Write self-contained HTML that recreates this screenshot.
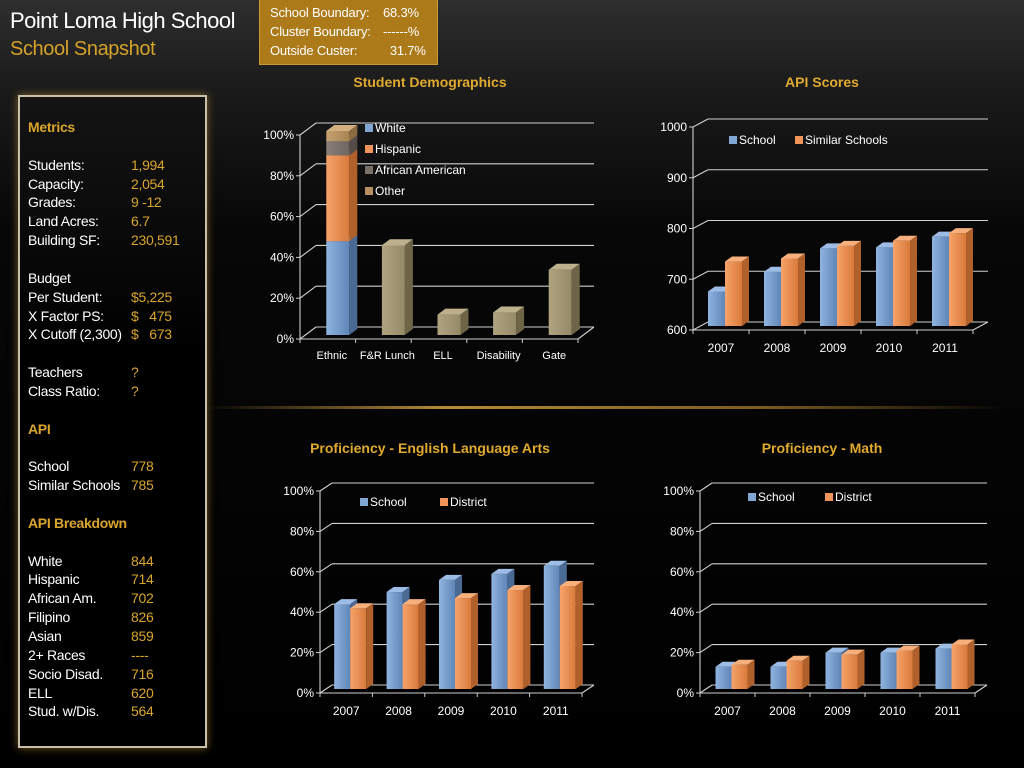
<!DOCTYPE html>
<html><head><meta charset="utf-8">
<style>
html,body{margin:0;padding:0;}
body{width:1024px;height:768px;overflow:hidden;position:relative;font-family:"Liberation Sans",sans-serif;
background:linear-gradient(180deg,#2e2e2e 0%,#1a1a1a 12%,#070707 30%,#000 100%);}
.abs{position:absolute;white-space:nowrap;}
#title{left:10px;top:8px;font-size:22px;color:#fff;letter-spacing:-0.5px;}
#sub{left:10px;top:38px;font-size:20px;color:#d4a22a;letter-spacing:-0.4px;}
#hbox{left:259px;top:-1px;width:179px;height:66px;background:#ad7a1a;border:1px solid #c99a3a;box-sizing:border-box;color:#fff;font-size:13px;letter-spacing:-0.2px;}
#hbox div{position:absolute;white-space:nowrap;}
#panel{left:18px;top:95px;width:189px;height:653px;box-sizing:border-box;border:2px solid #c8c0a8;box-shadow:0 0 8px rgba(200,150,60,0.6);background:linear-gradient(180deg,#141414,#000 40%);}
.lbl{position:absolute;left:28px;font-size:14px;color:#fff;letter-spacing:-0.3px;white-space:nowrap;}
.val{position:absolute;left:131px;font-size:14px;color:#d9a52c;letter-spacing:-0.3px;white-space:nowrap;}
.hd{position:absolute;left:28px;font-size:14px;color:#d9a52c;font-weight:bold;letter-spacing:-0.3px;}
.ct{position:absolute;font-size:14px;font-weight:bold;color:#e0a930;transform:translateX(-50%);white-space:nowrap;}
#glow{left:205px;top:406px;width:800px;height:3px;background:linear-gradient(90deg,rgba(0,0,0,0),#b58a3a 30%,#7a5a20 70%,rgba(0,0,0,0));}
svg{position:absolute;left:0;top:0;}
</style></head>
<body>
<div class="abs" id="title">Point Loma High School</div>
<div class="abs" id="sub">School Snapshot</div>
<div class="abs" id="hbox">
 <div style="left:10px;top:5px">School Boundary:</div><div style="left:123px;top:5px">68.3%</div>
 <div style="left:10px;top:24px">Cluster Boundary:</div><div style="left:123px;top:24px">------%</div>
 <div style="left:10px;top:43px">Outside Custer:</div><div style="left:123px;top:43px">&nbsp;&nbsp;31.7%</div>
</div>
<div class="abs" id="glow"></div>
<div class="abs" id="panel"></div>
<div id="metrics"></div>

<div class="ct" style="left:430px;top:74px">Student Demographics</div>
<div class="ct" style="left:822px;top:74px">API Scores</div>
<div class="ct" style="left:430px;top:440px">Proficiency - English Language Arts</div>
<div class="ct" style="left:822px;top:440px">Proficiency - Math</div>

<svg id="chart" width="1024" height="768"></svg>

<script>
// ---- Data ----
const demoCats = ["Ethnic","F&R Lunch","ELL","Disability","Gate"];
const demoWhite = [46];
const demoHispanic = [42];
const demoAfrican = [7];
const demoOther = [5];
const demoSingle = [null,44,10,11,32];
const demoTicks = ["0%","20%","40%","60%","80%","100%"];

const years = ["2007","2008","2009","2010","2011"];
const apiSchool = [668,707,753,755,776];
const apiSimilar = [727,733,758,768,783];
const apiTicks = ["600","700","800","900","1000"];

const elaSchool = [42,48,54,57,61];
const elaDistrict = [40,42,45,49,51];
const mathSchool = [11,11,18,18,20];
const mathDistrict = [12,14,17,19,22];
const pctTicks = ["0%","20%","40%","60%","80%","100%"];

const metricRows = [
 ["h","Metrics",""],["",""],["l","Students:","1,994"],["l","Capacity:","2,054"],["l","Grades:","9 -12"],["l","Land Acres:","6.7"],["l","Building SF:","230,591"],["",""],
 ["l","Budget",""],["l","Per Student:","$5,225"],["l","X Factor PS:","$   475"],["l","X Cutoff (2,300)","$   673"],["",""],
 ["l","Teachers","?"],["l","Class Ratio:","?"],["",""],["h","API",""],["",""],["l","School","778"],["l","Similar Schools","785"],["",""],
 ["h","API Breakdown",""],["",""],["l","White","844"],["l","Hispanic","714"],["l","African Am.","702"],["l","Filipino","826"],["l","Asian","859"],
 ["l","2+ Races","----"],["l","Socio Disad.","716"],["l","ELL","620"],["l","Stud. w/Dis.","564"]
];

const mdiv = document.getElementById('metrics');
metricRows.forEach((r,i)=>{
  if(!r[0]) return;
  const y = 119 + i*18.85;
  const a = document.createElement('div');
  a.className = r[0]==='h' ? 'hd' : 'lbl';
  a.style.top = y+'px';
  a.textContent = r[1];
  
  
  mdiv.appendChild(a);
  if(r[2]){
    const v = document.createElement('div');
    v.className='val'; v.style.top=y+'px';
    v.style.whiteSpace='pre';
    v.textContent=r[2];
    
    
    mdiv.appendChild(v);
  }
});

const svg = document.getElementById('chart');
const NS = "http://www.w3.org/2000/svg";
function mk(tag, attrs, parent){
  const e = document.createElementNS(NS, tag);
  for(const k in attrs) e.setAttribute(k, attrs[k]);
  (parent||svg).appendChild(e);
  return e;
}
const defs = mk('defs',{});
function grad(id,c1,c2){
  const g = mk('linearGradient',{id:id,x1:0,y1:0,x2:1,y2:0},defs);
  mk('stop',{offset:'0',  'stop-color':c1},g);
  mk('stop',{offset:'1','stop-color':c2},g);
}
grad('gBlue','#8fb4e0','#5f86b8');
grad('gOrange','#f7a36a','#d87a3c');
grad('gTan','#b0a380','#958a68');
grad('gGray','#8a7f78','#6e6560');
grad('gOther','#c7a170','#a88454');
const colors = {
  blue:{f:'url(#gBlue)',t:'#9dbde6',s:'#4a6a94'},
  orange:{f:'url(#gOrange)',t:'#f7b07c',s:'#b0602a'},
  tan:{f:'url(#gTan)',t:'#bdb08c',s:'#6e6548'},
  gray:{f:'url(#gGray)',t:'#9a908a',s:'#544c48'},
  other:{f:'url(#gOther)',t:'#d4b080',s:'#8a6a40'}
};

function frame(c){
  const n = c.ticks.length;
  for(let i=0;i<n;i++){
    const y = c.yBot + (c.yTop-c.yBot)*i/(n-1);
    const g = mk('line',{x1:c.x0+c.dx,y1:y+c.dy,x2:c.x1+c.dx,y2:y+c.dy,stroke:'#cfcfcf','stroke-width':1.1});
    
    
    mk('line',{x1:c.x0,y1:y,x2:c.x0+c.dx,y2:y+c.dy,stroke:'#cfcfcf','stroke-width':1.1});
    mk('line',{x1:c.x0-4,y1:y,x2:c.x0,y2:y,stroke:'#cfcfcf','stroke-width':1});
    const t = mk('text',{x:c.x0-6,y:y+4,'text-anchor':'end',fill:'#fff','font-size':12,'font-family':'Liberation Sans, sans-serif'});
    t.textContent = c.ticks[i];
    
    
  }
  mk('line',{x1:c.x0,y1:c.yBot,x2:c.x0,y2:c.yTop,stroke:'#cfcfcf','stroke-width':1.1});
  mk('line',{x1:c.x0,y1:c.yBot,x2:c.x1,y2:c.yBot,stroke:'#cfcfcf','stroke-width':1.1});
  mk('line',{x1:c.x1,y1:c.yBot,x2:c.x1+c.dx,y2:c.yBot+c.dy,stroke:'#cfcfcf','stroke-width':1.1});
  const n2 = c.cats.length, w=(c.x1-c.x0)/n2;
  for(let i=0;i<=n2;i++){
    mk('line',{x1:c.x0+i*w,y1:c.yBot,x2:c.x0+i*w,y2:c.yBot+4,stroke:'#cfcfcf','stroke-width':1});
  }
  c.cats.forEach((s,i)=>{
    const t = mk('text',{x:c.x0+(i+0.5)*w+(c.labShift||0),y:c.yBot+c.labOff,'text-anchor':'middle',fill:'#fff','font-size':c.catSize,'font-family':'Liberation Sans, sans-serif'});
    t.textContent = s;
    
    
  });
}
function bar3d(x,yb,yt,w,ddx,ddy,col,name){
  const g = mk('g',{});
  
  
  mk('rect',{x:x,y:yt,width:w,height:Math.max(0,yb-yt),fill:col.f},g);
  mk('polygon',{points:`${x},${yt} ${x+ddx},${yt+ddy} ${x+w+ddx},${yt+ddy} ${x+w},${yt}`,fill:col.t},g);
  mk('polygon',{points:`${x+w},${yt} ${x+w+ddx},${yt+ddy} ${x+w+ddx},${yb+ddy} ${x+w},${yb}`,fill:col.s},g);
}
function legend(items){
  items.forEach(it=>{
    const r = mk('rect',{x:it.x,y:it.y-8,width:8,height:8,fill:it.c});
    
    
    const t = mk('text',{x:it.x+10,y:it.y,fill:'#fff','font-size':12,'font-family':'Liberation Sans, sans-serif'});
    t.textContent = it.t;
    
    
  });
}

// ---- Demographics ----
(function(){
  const c = {x0:300,x1:578,yBot:339,yTop:135,dx:16,dy:-12,ticks:demoTicks,cats:demoCats,labOff:20,catSize:11,labShift:4};
  frame(c);
  const w=(c.x1-c.x0)/demoCats.length;
  const ys = v=> c.yBot + (c.yTop-c.yBot)*v/100;
  const bw=23, ox=10, oy=-4;
  let acc=0;
  const stack=[[demoWhite[0],colors.blue,'bar-white'],[demoHispanic[0],colors.orange,'bar-hispanic'],[demoAfrican[0],colors.gray,'bar-african-american'],[demoOther[0],colors.other,'bar-other']];
  stack.forEach(s=>{
    const x=c.x0+0.5*w-bw/2+ox;
    bar3d(x,ys(acc)+oy,ys(acc+s[0])+oy,bw,8,-6,s[1],s[2]);
    acc+=s[0];
  });
  demoSingle.forEach((v,i)=>{
    if(v==null) return;
    const x=c.x0+(i+0.5)*w-bw/2+ox;
    bar3d(x,ys(0)+oy,ys(v)+oy,bw,8,-6,colors.tan,'bar-'+demoCats[i].toLowerCase().replace(/[^a-z]/g,''));
  });
  legend([{x:365,y:132,c:'#7fa6d4',t:'White'},{x:365,y:153,c:'#f0955a',t:'Hispanic'},{x:365,y:174,c:'#7a706a',t:'African American'},{x:365,y:195,c:'#b89060',t:'Other'}]);
})();

function pairChart(c,s1,s2,n1,n2,lo,hi){
  frame(c);
  const w=(c.x1-c.x0)/c.cats.length;
  const ys=v=> c.yBot + (c.yTop-c.yBot)*(v-lo)/(hi-lo);
  const bw=c.bw, ox=4, oy=-4;
  c.cats.forEach((_,i)=>{
    const cx=c.x0+(i+0.5)*w+ox;
    bar3d(cx-bw,ys(lo)+oy,ys(s1[i])+oy,bw,7,-5,colors.blue,n1);
    bar3d(cx,ys(lo)+oy,ys(s2[i])+oy,bw,7,-5,colors.orange,n2);
  });
}
pairChart({x0:693,x1:973,yBot:330,yTop:127,dx:15,dy:-8,ticks:apiTicks,cats:years,labOff:22,catSize:12,bw:17},apiSchool,apiSimilar,'bar-api-school','bar-api-similar',600,1000);
legend([{x:729,y:144,c:'#7fa6d4',t:'School'},{x:795,y:144,c:'#f0955a',t:'Similar Schools'}]);
pairChart({x0:320,x1:582,yBot:693,yTop:491,dx:12,dy:-8,ticks:pctTicks,cats:years,labOff:22,catSize:12,bw:16},elaSchool,elaDistrict,'bar-ela-school','bar-ela-district',0,100);
legend([{x:360,y:506,c:'#7fa6d4',t:'School'},{x:440,y:506,c:'#f0955a',t:'District'}]);
pairChart({x0:700,x1:975,yBot:693,yTop:491,dx:12,dy:-8,ticks:pctTicks,cats:years,labOff:22,catSize:12,bw:16},mathSchool,mathDistrict,'bar-math-school','bar-math-district',0,100);
legend([{x:748,y:501,c:'#7fa6d4',t:'School'},{x:825,y:501,c:'#f0955a',t:'District'}]);
</script>
</body></html>
